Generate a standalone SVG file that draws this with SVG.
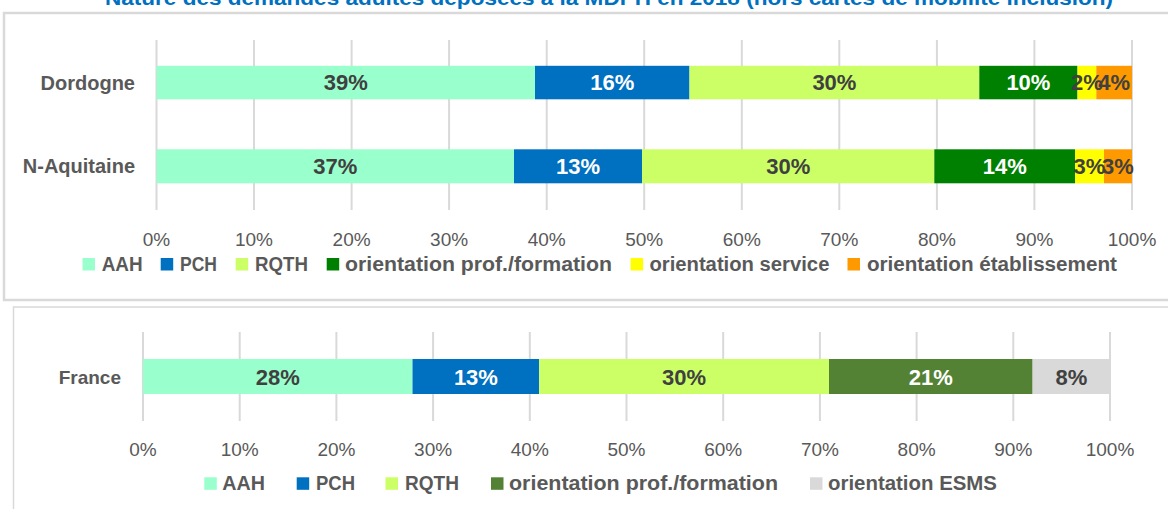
<svg xmlns="http://www.w3.org/2000/svg" width="1168" height="509" viewBox="0 0 1168 509">
<style>
text{font-family:"Liberation Sans",Arial,sans-serif}
.title{font-size:21px;font-weight:bold;fill:#0070C0}
.cat{font-size:20px;font-weight:bold;fill:#595959;text-anchor:end}
.ax{font-size:19px;fill:#595959;text-anchor:middle}
.lg{font-size:20px;font-weight:bold;fill:#595959}
.dl{font-size:22px;font-weight:bold;text-anchor:middle}
.dk{fill:#404040}
.wh{fill:#FFFFFF}
.grid{stroke:#D9D9D9;stroke-width:2}
.panel{fill:#FFFFFF;stroke:#D9D9D9}
.aah{fill:#99FFCC}.pch{fill:#0070C0}.rqth{fill:#CCFF66}.opf{fill:#008000}.opf2{fill:#548235}.osv{fill:#FFFF00}.oet{fill:#FF9900}.esms{fill:#D9D9D9}
</style>
<rect width="1168" height="509" fill="#FFFFFF"/>
<text class="title" x="105" y="5" textLength="1008" lengthAdjust="spacingAndGlyphs">Nature des demandes adultes déposées à la MDPH en 2018 (hors cartes de mobilité inclusion)</text>

<g id="panel-top">
<rect class="panel" x="4" y="13" width="1180" height="287" stroke-width="2.5"/>
<g id="grid-top" class="grid">
<line x1="156.5" y1="40" x2="156.5" y2="210"/>
<line x1="254" y1="40" x2="254" y2="210"/>
<line x1="351.6" y1="40" x2="351.6" y2="210"/>
<line x1="449.1" y1="40" x2="449.1" y2="210"/>
<line x1="546.7" y1="40" x2="546.7" y2="210"/>
<line x1="644.2" y1="40" x2="644.2" y2="210"/>
<line x1="741.8" y1="40" x2="741.8" y2="210"/>
<line x1="839.3" y1="40" x2="839.3" y2="210"/>
<line x1="936.9" y1="40" x2="936.9" y2="210"/>
<line x1="1034.4" y1="40" x2="1034.4" y2="210"/>
<line x1="1132" y1="40" x2="1132" y2="210"/>
</g>
<g id="bar-dordogne">
<rect class="aah" x="156.5" y="65.8" width="378.5" height="33.5"/>
<rect class="pch" x="535" y="65.8" width="154.5" height="33.5"/>
<rect class="rqth" x="689.5" y="65.8" width="289.8" height="33.5"/>
<rect class="opf" x="979.3" y="65.8" width="98.2" height="33.5"/>
<rect class="osv" x="1077.5" y="65.8" width="18.8" height="33.5"/>
<rect class="oet" x="1096.3" y="65.8" width="35.7" height="33.5"/>
<text class="dl dk" x="345.8" y="90.4">39%</text>
<text class="dl wh" x="612.3" y="90.4">16%</text>
<text class="dl dk" x="834.4" y="90.4">30%</text>
<text class="dl wh" x="1028.4" y="90.4">10%</text>
<text class="dl dk" x="1086.9" y="90.4">2%</text>
<text class="dl dk" x="1114.2" y="90.4">4%</text>
</g>
<g id="bar-naquitaine">
<rect class="aah" x="156.5" y="149.3" width="357.5" height="34"/>
<rect class="pch" x="514" y="149.3" width="128" height="34"/>
<rect class="rqth" x="642" y="149.3" width="292.3" height="34"/>
<rect class="opf" x="934.3" y="149.3" width="140.7" height="34"/>
<rect class="osv" x="1075" y="149.3" width="29" height="34"/>
<rect class="oet" x="1104" y="149.3" width="28" height="34"/>
<text class="dl dk" x="335.3" y="174.2">37%</text>
<text class="dl wh" x="578" y="174.2">13%</text>
<text class="dl dk" x="788.2" y="174.2">30%</text>
<text class="dl wh" x="1004.7" y="174.2">14%</text>
<text class="dl dk" x="1089.5" y="174.2">3%</text>
<text class="dl dk" x="1118" y="174.2">3%</text>
</g>
<g id="cats-top">
<text class="cat" x="135" y="90">Dordogne</text>
<text class="cat" x="135" y="173">N-Aquitaine</text>
</g>
<g id="axis-top">
<text class="ax" x="156.5" y="246">0%</text>
<text class="ax" x="254" y="246">10%</text>
<text class="ax" x="351.6" y="246">20%</text>
<text class="ax" x="449.1" y="246">30%</text>
<text class="ax" x="546.7" y="246">40%</text>
<text class="ax" x="644.2" y="246">50%</text>
<text class="ax" x="741.8" y="246">60%</text>
<text class="ax" x="839.3" y="246">70%</text>
<text class="ax" x="936.9" y="246">80%</text>
<text class="ax" x="1034.4" y="246">90%</text>
<text class="ax" x="1132" y="246">100%</text>
</g>
<g id="legend-top">
<rect class="aah" x="82.5" y="258" width="12.5" height="12.5"/>
<text class="lg" x="101.7" y="271" textLength="41" lengthAdjust="spacingAndGlyphs">AAH</text>
<rect class="pch" x="160.7" y="258" width="12.5" height="12.5"/>
<text class="lg" x="180" y="271" textLength="37" lengthAdjust="spacingAndGlyphs">PCH</text>
<rect class="rqth" x="235.7" y="258" width="12.5" height="12.5"/>
<text class="lg" x="255" y="271" textLength="53" lengthAdjust="spacingAndGlyphs">RQTH</text>
<rect class="opf" x="326.7" y="258" width="12.5" height="12.5"/>
<text class="lg" x="345" y="271" textLength="267" lengthAdjust="spacingAndGlyphs">orientation prof./formation</text>
<rect class="osv" x="630.6" y="258" width="12.5" height="12.5"/>
<text class="lg" x="649.4" y="271" textLength="180" lengthAdjust="spacingAndGlyphs">orientation service</text>
<rect class="oet" x="847.5" y="258" width="12.5" height="12.5"/>
<text class="lg" x="866.9" y="271" textLength="250" lengthAdjust="spacingAndGlyphs">orientation établissement</text>
</g>
</g>

<g id="panel-bottom">
<rect class="panel" x="13.5" y="307" width="1170" height="220" stroke-width="1.5"/>
<g id="grid-bottom" class="grid">
<line x1="143" y1="332" x2="143" y2="421"/>
<line x1="239.7" y1="332" x2="239.7" y2="421"/>
<line x1="336.4" y1="332" x2="336.4" y2="421"/>
<line x1="433.1" y1="332" x2="433.1" y2="421"/>
<line x1="529.8" y1="332" x2="529.8" y2="421"/>
<line x1="626.5" y1="332" x2="626.5" y2="421"/>
<line x1="723.2" y1="332" x2="723.2" y2="421"/>
<line x1="819.9" y1="332" x2="819.9" y2="421"/>
<line x1="916.6" y1="332" x2="916.6" y2="421"/>
<line x1="1013.3" y1="332" x2="1013.3" y2="421"/>
<line x1="1110" y1="332" x2="1110" y2="421"/>
</g>
<g id="bar-france">
<rect class="aah" x="143" y="359" width="269.5" height="35"/>
<rect class="pch" x="412.5" y="359" width="126.7" height="35"/>
<rect class="rqth" x="539.2" y="359" width="289.8" height="35"/>
<rect class="opf2" x="829" y="359" width="203.6" height="35"/>
<rect class="esms" x="1032.6" y="359" width="77.4" height="35"/>
<text class="dl dk" x="277.8" y="384.5">28%</text>
<text class="dl wh" x="475.9" y="384.5">13%</text>
<text class="dl dk" x="684.1" y="384.5">30%</text>
<text class="dl wh" x="930.8" y="384.5">21%</text>
<text class="dl dk" x="1071.3" y="384.5">8%</text>
</g>
<text class="cat" x="121" y="384" style="font-size:19px">France</text>
<g id="axis-bottom">
<text class="ax" x="143" y="455.5">0%</text>
<text class="ax" x="239.7" y="455.5">10%</text>
<text class="ax" x="336.4" y="455.5">20%</text>
<text class="ax" x="433.1" y="455.5">30%</text>
<text class="ax" x="529.8" y="455.5">40%</text>
<text class="ax" x="626.5" y="455.5">50%</text>
<text class="ax" x="723.2" y="455.5">60%</text>
<text class="ax" x="819.9" y="455.5">70%</text>
<text class="ax" x="916.6" y="455.5">80%</text>
<text class="ax" x="1013.3" y="455.5">90%</text>
<text class="ax" x="1110" y="455.5">100%</text>
</g>
<g id="legend-bottom">
<rect class="aah" x="204.3" y="477.3" width="12.5" height="12.5"/>
<text class="lg" x="222.3" y="490" textLength="42.7" lengthAdjust="spacingAndGlyphs">AAH</text>
<rect class="pch" x="296.7" y="477.3" width="12.5" height="12.5"/>
<text class="lg" x="316" y="490" textLength="39" lengthAdjust="spacingAndGlyphs">PCH</text>
<rect class="rqth" x="385.5" y="477.3" width="12.5" height="12.5"/>
<text class="lg" x="405" y="490" textLength="54" lengthAdjust="spacingAndGlyphs">RQTH</text>
<rect class="opf2" x="491" y="477.3" width="12.5" height="12.5"/>
<text class="lg" x="509" y="490" textLength="269" lengthAdjust="spacingAndGlyphs">orientation prof./formation</text>
<rect class="esms" x="810" y="477.3" width="12.5" height="12.5"/>
<text class="lg" x="828" y="490" textLength="169" lengthAdjust="spacingAndGlyphs">orientation ESMS</text>
</g>
</g>
</svg>
